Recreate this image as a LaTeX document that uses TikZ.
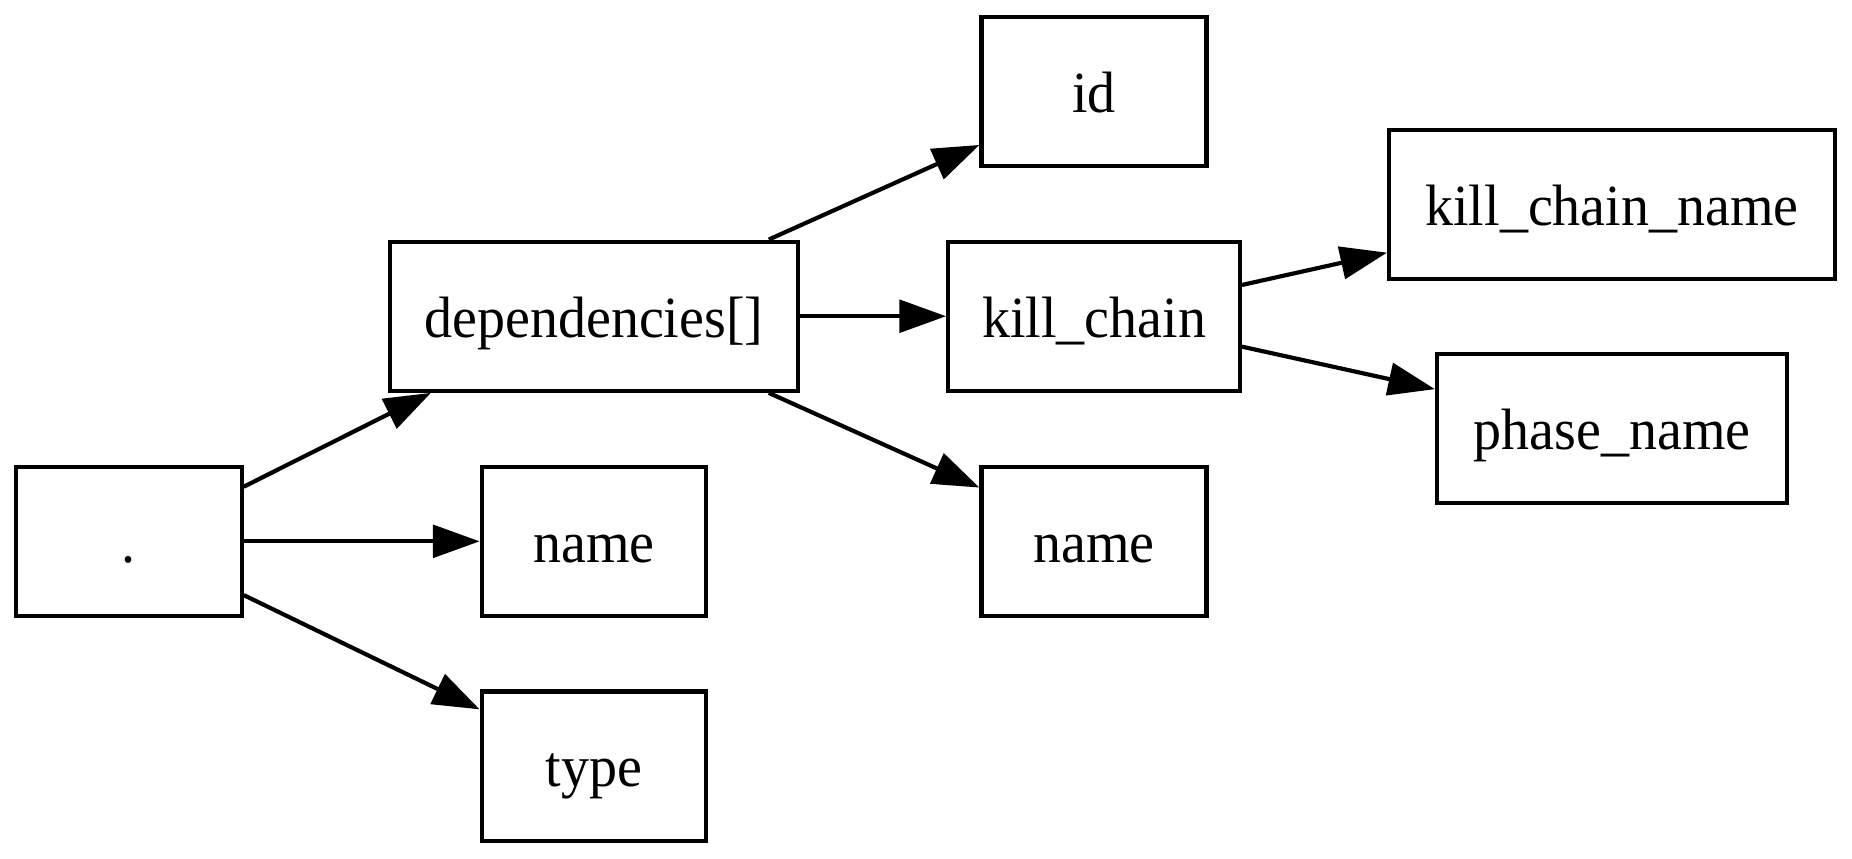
\documentclass[tikz,border=0pt]{standalone}
\usepackage{fontspec}
\setmainfont[FakeStretch=0.96]{Liberation Serif}
\usetikzlibrary{arrows.meta}
\begin{document}
\begin{tikzpicture}[x=0.24pt,y=-0.24pt,
  box/.style={draw,line width=1pt,rectangle,inner sep=0pt,minimum height=35.8pt,
    text height=10.5pt,text depth=0.5pt,font=\fontsize{14pt}{17pt}\selectfont},
  edge/.style={line width=1pt,-{Triangle[length=11.2pt,width=7.8pt]}}]
\useasboundingbox (0,0) rectangle (1852,858);
\node[box,minimum width=54.2pt] (dot) at (128.7,541.3) {.};
\node[box,minimum width=98.1pt] (deps) at (594,316.2) {dependencies[]};
\node[box,minimum width=53.9pt] (name1) at (594,541.3) {name};
\node[box,minimum width=53.9pt] (type) at (594,766) {type};
\node[box,minimum width=54pt] (id) at (1094,91.2) {id};
\node[box,minimum width=70pt] (kc) at (1094,316.2) {kill\_chain};
\node[box,minimum width=54pt] (name2) at (1094,541.3) {name};
\node[box,minimum width=107pt] (kcn) at (1612,204.3) {kill\_chain\_name};
\node[box,minimum width=84pt] (phase) at (1612,428.3) {phase\_name};
\draw[edge] ([yshift=13.1pt]dot.east) -- ([xshift=10.4pt]deps.south west);
\draw[edge] (dot.east) -- (name1.west);
\draw[edge] ([yshift=-12.9pt]dot.east) -- ([yshift=-4.8pt]type.north west);
\draw[edge] ([xshift=-7.6pt]deps.north east) -- ([yshift=5.5pt]id.south west);
\draw[edge] (deps.east) -- (kc.west);
\draw[edge] ([xshift=-7.6pt]deps.south east) -- ([yshift=-5.5pt]name2.north west);
\draw[edge] ([yshift=7.5pt]kc.east) -- ([yshift=6.8pt]kcn.south west);
\draw[edge] ([yshift=-7.3pt]kc.east) -- ([yshift=-9pt]phase.north west);
\end{tikzpicture}
\end{document}
